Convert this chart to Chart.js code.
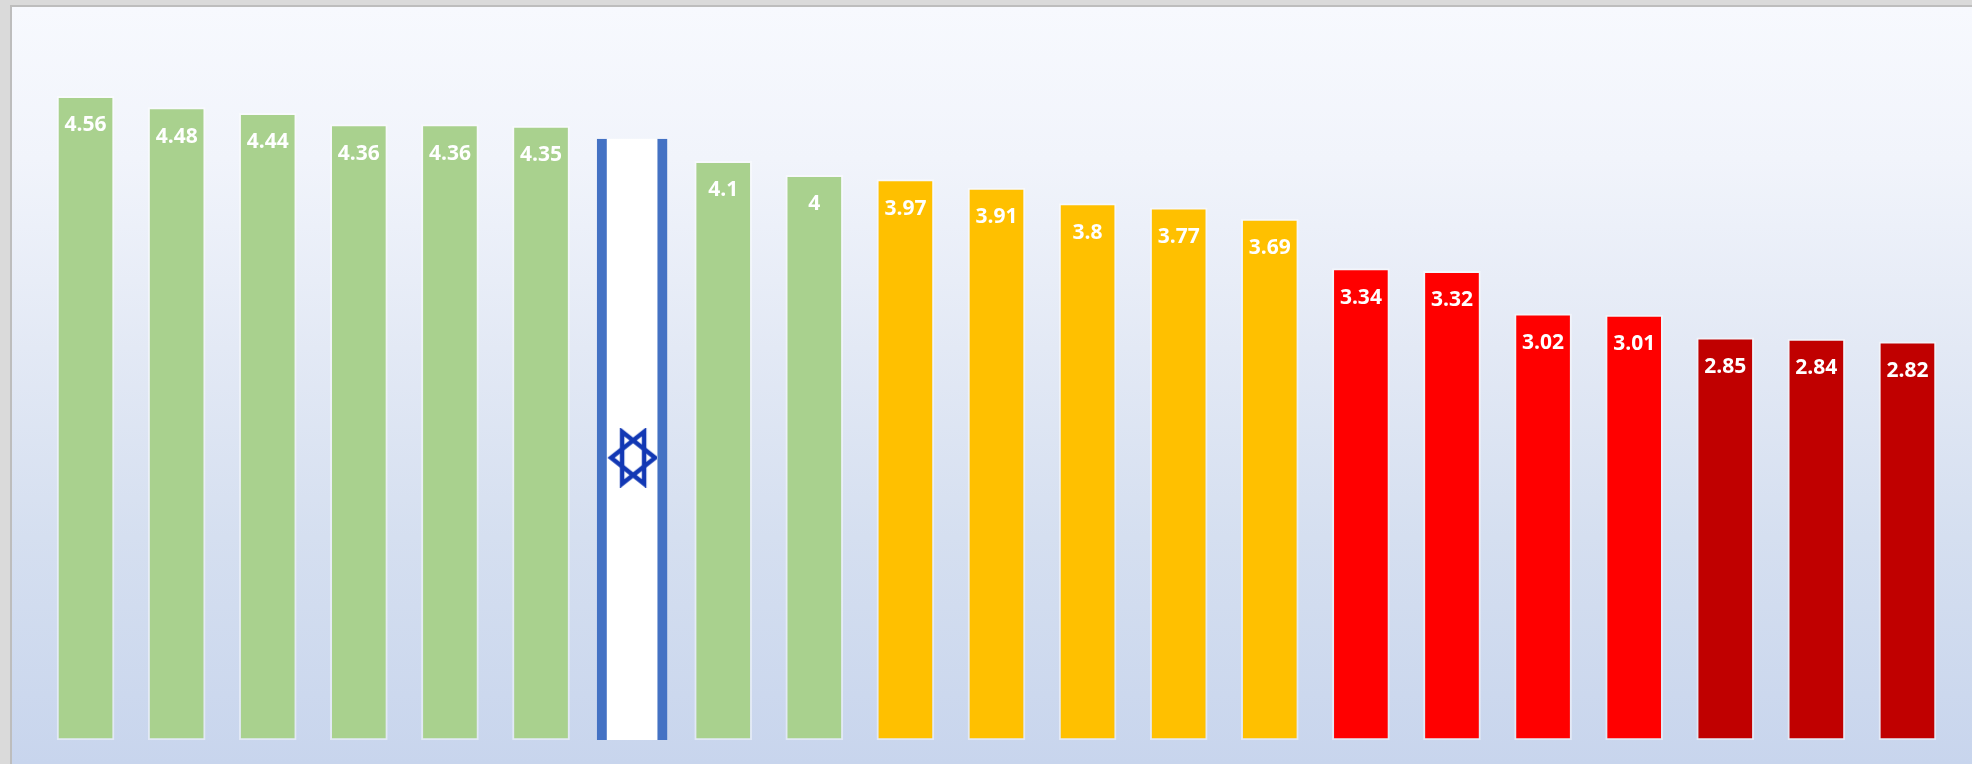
<!DOCTYPE html>
<html>
<head>
<meta charset="utf-8">
<style>
html,body{margin:0;padding:0;width:1972px;height:764px;overflow:hidden;background:#dadada}
#panel{position:absolute;left:10px;top:5px;width:1962px;height:759px;box-sizing:border-box;border-left:2px solid #bdbdbd;border-top:2px solid #bdbdbd;background:linear-gradient(180deg,#f7f9fe 0%,#f1f4fb 20%,#e3e9f5 45%,#d5dff0 70%,#c8d5ed 100%)}
canvas{position:absolute;left:0;top:0}
</style>
<script src="https://cdn.jsdelivr.net/npm/chart.js@4/dist/chart.umd.min.js"></script>
</head>
<body>
<div id="panel"></div>
<canvas id="c" width="1972" height="764"></canvas>
<script>
const categories = ['1','2','3','4','5','6','Israel','8','9','10','11','12','13','14','15','16','17','18','19','20','21'];
const scores = [4.56,4.48,4.44,4.36,4.36,4.35,null,4.1,4,3.97,3.91,3.8,3.77,3.69,3.34,3.32,3.02,3.01,2.85,2.84,2.82];
const flagScore = [null,null,null,null,null,null,4.26,null,null,null,null,null,null,null,null,null,null,null,null,null,null];
const starAt = [null,null,null,null,null,null,2,null,null,null,null,null,null,null,null,null,null,null,null,null,null];
const barColors = ['#A9D18E','#A9D18E','#A9D18E','#A9D18E','#A9D18E','#A9D18E','#FFFFFF','#A9D18E','#A9D18E','#FFC000','#FFC000','#FFC000','#FFC000','#FFC000','#FF0000','#FF0000','#FF0000','#FF0000','#C00000','#C00000','#C00000'];

const star = document.createElement('canvas');
star.width = 50; star.height = 60;
(function(){
  const g = star.getContext('2d');
  g.strokeStyle = '#1238B4'; g.lineWidth = 4.5; g.lineJoin = 'miter';
  g.beginPath(); g.moveTo(4,30); g.lineTo(37,4); g.lineTo(37,56); g.closePath(); g.stroke();
  g.beginPath(); g.moveTo(48,30); g.lineTo(15,4); g.lineTo(15,56); g.closePath(); g.stroke();
})();

const valueLabels = {
  id:'valueLabels',
  afterDatasetsDraw(chart){
    const ctx = chart.ctx, meta = chart.getDatasetMeta(1);
    ctx.save();
    ctx.font = 'bold 21px "Open Sans"';
    ctx.fillStyle = '#FFFFFF';
    ctx.textAlign = 'center';
    ctx.textBaseline = 'middle';
    scores.forEach((v,i)=>{
      if(v===null) return;
      const el = meta.data[i];
      ctx.fillText(String(v), el.x, el.y + 29);
    });
    ctx.restore();
  }
};

new Chart(document.getElementById('c'),{
  data:{
    labels:categories,
    datasets:[
      {type:'line',data:starAt,showLine:false,pointStyle:star,pointRadius:1,order:0},
      {type:'bar',data:scores,grouped:false,barThickness:57,backgroundColor:barColors,
       borderColor:'rgba(255,255,255,0.45)',borderWidth:2,borderSkipped:false,order:2},
      {type:'bar',data:flagScore,grouped:false,barThickness:70,backgroundColor:'#FFFFFF',
       borderColor:'#4472C4',borderWidth:{left:10,right:10,top:0,bottom:0},borderSkipped:false,order:1}
    ]
  },
  options:{
    responsive:false,
    animation:false,
    layout:{padding:{left:40,right:19,top:6,bottom:24}},
    plugins:{legend:{display:false},tooltip:{enabled:false}},
    scales:{
      x:{display:false},
      y:{display:false,min:0,max:5.2}
    }
  },
  plugins:[valueLabels]
});
</script>
</body>
</html>
